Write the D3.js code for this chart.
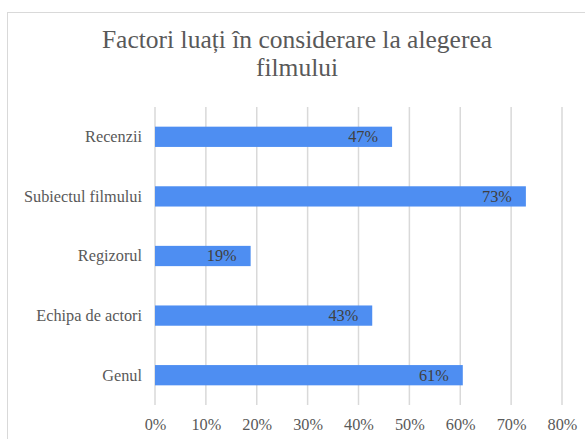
<!DOCTYPE html>
<html>
<head>
<meta charset="utf-8">
<script src="https://cdn.jsdelivr.net/npm/d3@7"></script>
<style>
  html, body { margin: 0; padding: 0; background: #fff; }
  svg { display: block; }
</style>
</head>
<body>
<svg id="chart" width="585" height="439"></svg>
<script>
// Survey answers: share of respondents naming each factor
const categories = ["Recenzii", "Subiectul filmului", "Regizorul", "Echipa de actori", "Genul"];
const shares = [0.466, 0.729, 0.188, 0.427, 0.605];
const tickValues = [0, 0.1, 0.2, 0.3, 0.4, 0.5, 0.6, 0.7, 0.8];
const titleLines = ["Factori luați în considerare la alegerea", "filmului"];

const FONT = "'Liberation Serif', 'Times New Roman', serif";
const LABEL_SIZE = "16.3px";
const svg = d3.select("#chart");
const W = 585, H = 439;

// outer chart frame
svg.append("rect")
  .attr("x", 7.5).attr("y", 12.5)
  .attr("width", W + 10).attr("height", H + 10)
  .attr("fill", "#fff").attr("stroke", "#d9d9d9").attr("stroke-width", 1);

// title
const title = svg.append("text")
  .attr("text-anchor", "middle")
  .attr("fill", "#595959")
  .style("font-family", FONT)
  .style("font-size", "25.5px");
titleLines.forEach((line, i) => {
  title.append("tspan").attr("x", 297).attr("y", 48.3 + i * 27.3).text(line);
});

const margin = { left: 155, right: 562, top: 107, bottom: 405 };

const x = d3.scaleLinear().domain([0, 0.8]).range([margin.left, margin.right]);
const y = d3.scaleBand().domain(categories).range([margin.top, margin.bottom]).paddingInner(0.66).paddingOuter(0.33);

// vertical gridlines
svg.append("g")
  .selectAll("line")
  .data(tickValues)
  .join("line")
  .attr("x1", d => x(d)).attr("x2", d => x(d))
  .attr("y1", margin.top).attr("y2", margin.bottom)
  .attr("stroke", "#d9d9d9").attr("stroke-width", 1.5);

// x axis tick labels
const xAxis = d3.axisBottom(x).tickValues(tickValues).tickFormat(d3.format(".0%")).tickSize(0).tickPadding(0);
const gx = svg.append("g").attr("transform", `translate(0,${margin.bottom})`).call(xAxis);
gx.select(".domain").remove();
gx.selectAll("text")
  .attr("y", 25).attr("dy", null)
  .attr("fill", "#595959")
  .style("font-family", FONT)
  .style("font-size", LABEL_SIZE);

// y axis category labels
const yAxis = d3.axisLeft(y).tickSize(0).tickPadding(13);
const gy = svg.append("g").attr("transform", `translate(${margin.left},0)`).call(yAxis);
gy.select(".domain").remove();
gy.selectAll("text")
  .attr("dy", "0.33em")
  .attr("fill", "#595959")
  .style("font-family", FONT)
  .style("font-size", LABEL_SIZE);

// bars
svg.append("g")
  .selectAll("rect")
  .data(categories)
  .join("rect")
  .attr("x", x(0))
  .attr("y", d => y(d))
  .attr("width", (d, i) => x(shares[i]) - x(0))
  .attr("height", y.bandwidth())
  .attr("fill", "#4e8ef2");

// value labels inside bar ends
svg.append("g")
  .selectAll("text")
  .data(categories)
  .join("text")
  .attr("x", (d, i) => x(shares[i]) - 14)
  .attr("y", d => y(d) + y.bandwidth() / 2)
  .attr("dy", "0.33em")
  .attr("text-anchor", "end")
  .attr("fill", "#404040")
  .style("font-family", FONT)
  .style("font-size", LABEL_SIZE)
  .text((d, i) => d3.format(".0%")(shares[i]));
</script>
</body>
</html>
